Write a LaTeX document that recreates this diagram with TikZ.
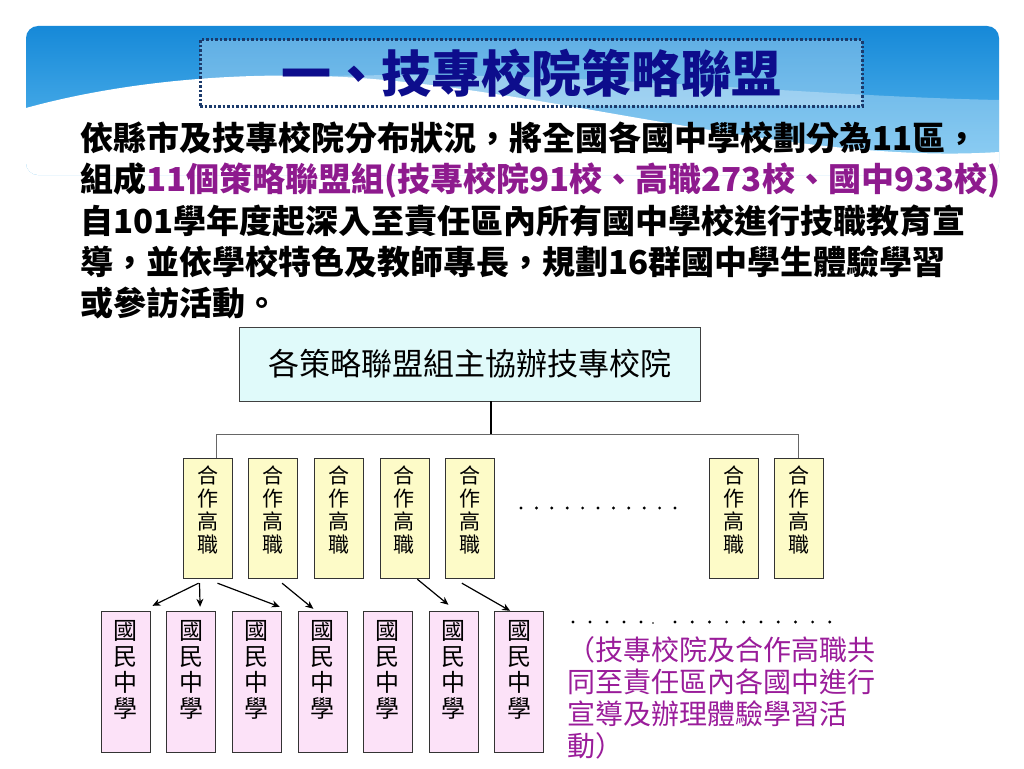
\documentclass[tikz,border=0pt]{standalone}
\usepackage{fontspec}
\setmainfont{Noto Sans CJK TC}
\usetikzlibrary{positioning,arrows.meta}
\definecolor{bannertop}{HTML}{1689D8}
\definecolor{bannerbot}{HTML}{62BDF0}
\definecolor{titleblue}{HTML}{0D0D8C}
\definecolor{framenavy}{HTML}{1B3A6B}
\definecolor{purp}{HTML}{8E1A8E}
\definecolor{notepurp}{HTML}{9A1C9A}
\definecolor{hostfill}{HTML}{E0FAFA}
\definecolor{hvfill}{HTML}{FDFBC8}
\definecolor{msfill}{HTML}{FCE2F8}
\begin{document}
\begin{tikzpicture}[x=1pt,y=-1pt,
  para/.style={anchor=west,inner sep=0pt,font=\bfseries\fontsize{33}{40}\selectfont},
  hostbox/.style={draw=black!75,fill=hostfill,minimum width=461pt,minimum height=74pt,font=\fontsize{31}{36}\selectfont},
  hvbox/.style={draw=black!80,fill=hvfill,minimum width=49pt,minimum height=120pt},
  msbox/.style={draw=black!80,fill=msfill,minimum width=49pt,minimum height=141pt},
  hvtext/.style={anchor=north,inner sep=0pt,align=center,font=\fontsize{21}{23}\selectfont},
  mstext/.style={anchor=north,inner sep=0pt,align=center,font=\fontsize{24}{26}\selectfont},
  bus/.style={draw=black!60,line width=1.2pt},
  arr/.style={-{Stealth[length=8pt,width=7pt]},line width=1.2pt}]
\useasboundingbox (0,0) rectangle (1024,768);
\fill[white] (0,0) rectangle (1024,768);
\begin{scope}
\clip[rounded corners=12pt] (26,26) rectangle (999,175);
\shade[top color=bannertop,bottom color=bannerbot] (26,26) rectangle (999,175);
\fill[white,opacity=0.3] (150,88) .. controls (450,55) and (750,95) .. (999,100) -- (999,175) -- (150,175) -- cycle;
\fill[white] (26,108) .. controls (120,82) and (240,70) .. (360,78) .. controls (560,92) and (800,165) .. (999,152) -- (999,175) -- (26,175) -- cycle;
\end{scope}
\node[draw=framenavy,line width=3pt,dash pattern=on 2.5pt off 2pt,fill=white,fill opacity=0.3,text opacity=1,minimum width=662pt,minimum height=66pt,text=titleblue,font=\bfseries\fontsize{50}{54}\selectfont] (TITLE) at (531,73) {一、技專校院策略聯盟};
\node[para] (L1) at (80,138) {依縣市及技專校院分布狀況，將全國各國中學校劃分為11區，};
\node[para] (L2) at (80,180) {組成\textcolor{purp}{11個策略聯盟組(技專校院91校、高職273校、國中933校)}};
\node[para] (L3) at (80,221) {自101學年度起深入至責任區內所有國中學校進行技職教育宣};
\node[para] (L4) at (80,262) {導，並依學校特色及教師專長，規劃16群國中學生體驗學習};
\node[para] (L5) at (80,303) {或參訪活動。};
\node[hostbox] (HOST) at (470,364) {各策略聯盟組主協辦技專校院};
\foreach\i/\x in {1/207.5,2/273.1,3/338.7,4/404.3,5/469.9,6/733.5,7/798.5} {
  \node[hvbox] (HV\i) at (\x,518) {};
  \node[hvtext] at ([yshift=-8pt]HV\i.north) {合\\作\\高\\職};
}
\foreach\i in {1,...,7} {
  \node[msbox] (MS\i) at (125.5+65.6*\i-65.6,681.5) {};
  \node[mstext] at ([yshift=-9pt]MS\i.north) {國\\民\\中\\學};
}
\draw[line width=1.2pt] ([xshift=21pt]HOST.south) -- ++(0,33) coordinate (J);
\draw[bus] ([xshift=9pt]HV1.north) |- (J) -| (HV7.north);
\foreach\k in {0,...,10} {
  \fill (521+15.4*\k,508) circle(1.6pt);
}
\draw[arr] ([xshift=-9pt,yshift=-5pt]HV1.south) -- ([xshift=27pt,yshift=5pt]MS1.north);
\draw[arr] ([xshift=-8pt,yshift=-5pt]HV1.south) -- ([xshift=9pt,yshift=4pt]MS2.north);
\draw[arr] ([xshift=10pt,yshift=-5pt]HV1.south) -- ([xshift=23pt,yshift=4pt]MS3.north);
\draw[arr] ([xshift=9pt,yshift=-5pt]HV2.south) -- ([xshift=-9pt,yshift=2pt]MS4.north);
\draw[arr] ([xshift=13pt,yshift=-1pt]HV4.south) -- ([xshift=-5pt,yshift=6pt]MS6.north);
\draw[arr] ([xshift=-8pt,yshift=-5pt]HV5.south) -- ([xshift=-9pt]MS7.north);
\foreach\k in {0,...,4} {
  \fill (573+17*\k,622) circle(1.6pt);
}
\fill (653,623) circle(0.8pt);
\foreach\k in {0,...,9} {
  \fill (675+17.2*\k,622) circle(1.6pt);
}
\node[anchor=north west,inner sep=0pt,align=left,text=notepurp,font=\fontsize{28}{32}\selectfont] (NOTE) at (567,636) {（技專校院及合作高職共\\同至責任區內各國中進行\\宣導及辦理體驗學習活\\動）};
\end{tikzpicture}
\end{document}
